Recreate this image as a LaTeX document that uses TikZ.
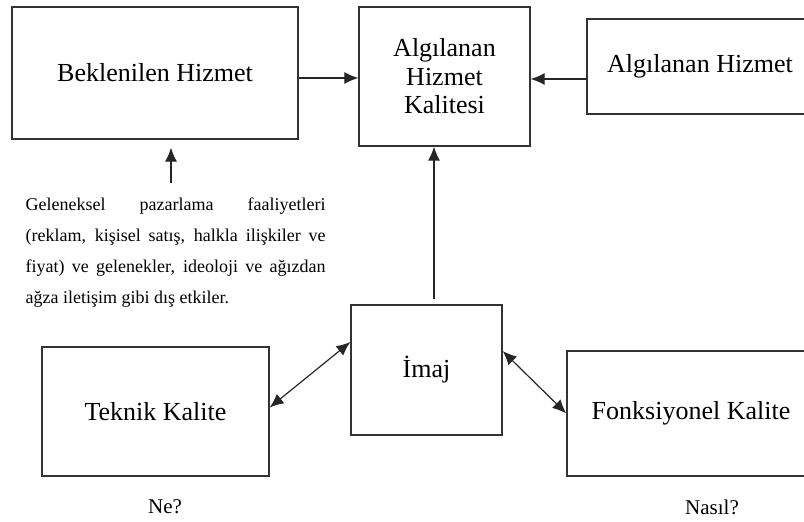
\documentclass[tikz,border=0pt]{standalone}
\usepackage{fontspec}
\setmainfont{Liberation Serif}
\usepackage{tikz}
\usetikzlibrary{positioning}
\usetikzlibrary{calc}
\usetikzlibrary{arrows.meta}
\tikzset{
b/.style={
  rectangle,
  inner sep=0pt,
  align=center,
  draw=black!80,
  line width=1.3pt,
  fill=white,
  font=\fontsize{26}{28.5}\selectfont
  },
q/.style={
  inner sep=0pt,
  font=\fontsize{21}{24}\selectfont
  }
}

\begin{document}
\begin{tikzpicture}[x=1pt,y=-1pt,>={Latex[length=14pt,width=12pt]},line width=1.2pt,draw=black!85]
            \clip (0,0) rectangle (804,522);
            \node[b,minimum width=286pt,minimum height=132pt] (bek) at (155,73) {Beklenilen Hizmet};
            \node[b,minimum width=171pt,minimum height=139pt] (kal) at (444.5,76.5) {Algılanan\\Hizmet\\Kalitesi};
            \node[b,minimum width=226pt,minimum height=95pt] (alg) at (700,66.5) {Algılanan Hizmet};
            \node[b,minimum width=151pt,minimum height=130pt] (imaj) at (426.5,370) {İmaj};
            \node[b,minimum width=227pt,minimum height=129pt] (tek) at (155.5,411.5) {Teknik Kalite};
            \node[b,minimum width=248pt,minimum height=125pt] (fon) at (691,413.5) {Fonksiyonel Kalite};
            \node[q] (ne) at (165,507) {Ne?};
            \node[q] (nasil) at (712,507) {Nasıl?};
            \node[anchor=north west,inner sep=0pt,text width=300pt,align=justify,
                  font=\fontsize{18}{31}\selectfont] (gel) at (25,197)
                  {Geleneksel pazarlama faaliyetleri\linebreak
                   (reklam, kişisel satış, halkla ilişkiler ve\linebreak
                   fiyat) ve gelenekler, ideoloji ve ağızdan\linebreak
                   ağza iletişim gibi dış etkiler.};
            \coordinate (gelUp) at (171,183);
            \coordinate (imajUp) at ($(imaj.north)+(7.5,-5)$);
            \path[->]
            ([yshift=-1.5pt]bek.east |- kal.west) edge [] ([yshift=-1.5pt]kal.west)
            ([yshift=-2.5pt]alg.west |- kal.east) edge [] ([yshift=-2.5pt]kal.east)
            (imajUp) edge [] (imajUp |- kal.south)
            (gelUp) edge [shorten >=8pt] (gelUp |- bek.south)
            ;
            \path[<->]
            ([yshift=4pt]tek.east) edge [] ([yshift=28pt]imaj.west)
            ([yshift=19pt]imaj.east) edge [] (fon.west)
            ;
        \end{tikzpicture}
\end{document}
